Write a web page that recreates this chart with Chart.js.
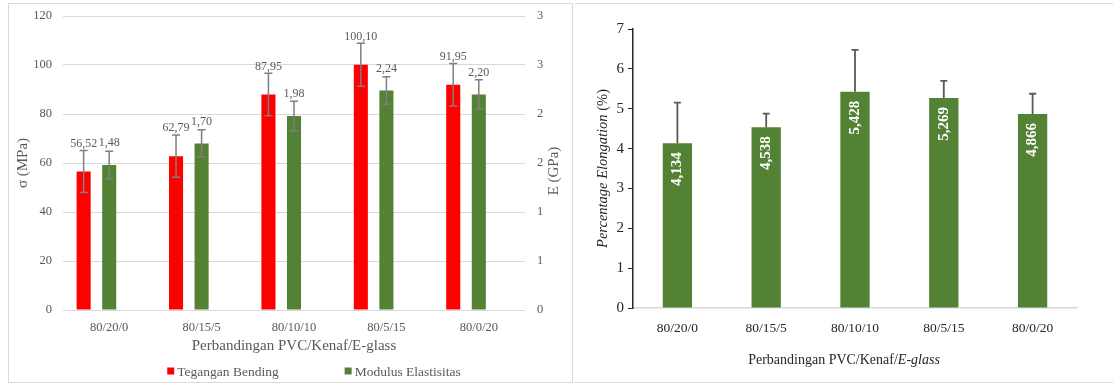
<!DOCTYPE html>
<html lang="id">
<head>
<meta charset="UTF-8">
<title>Tegangan Bending, Modulus Elastisitas dan Elongation</title>
<script src="https://cdn.jsdelivr.net/npm/chart.js"></script>
<style>
  body { margin: 0; background: #fff; width: 1113px; height: 385px; position: relative; overflow: hidden; }
  .panel { position: absolute; box-sizing: border-box; border: 1px solid #d9d9d9; }
  #leftPanel { left: 8px; top: 3px; width: 565px; height: 380px; }
  #rightPanel { left: 575px; top: 3px; width: 538px; height: 380px; border-left: none; border-right: none; }
  canvas { display: block; }
</style>
</head>
<body>
<div class="panel" id="leftPanel"><canvas id="bendChart" width="563" height="378"></canvas></div>
<div class="panel" id="rightPanel"><canvas id="elongChart" width="538" height="378"></canvas></div>

<script>
  // data
  const categories = ['80/20/0', '80/15/5', '80/10/10', '80/5/15', '80/0/20'];
  const bendingStrength = [56.52, 62.79, 87.95, 100.10, 91.95];     // MPa
  const bendingStrengthErr = [8.6, 8.6, 8.7, 8.8, 8.7];
  const modulus = [1.48, 1.70, 1.98, 2.24, 2.20];                    // GPa
  const modulusErr = [0.14, 0.14, 0.15, 0.14, 0.15];
  const elongation = [4.134, 4.538, 5.428, 5.269, 4.866];            // %
  const elongationErr = [1.02, 0.34, 1.05, 0.43, 0.51];

  const SERIF = "'Liberation Serif', 'Times New Roman', serif";
  const RED = '#ff0000';
  const GREEN = '#548235';

  // error bars drawn from the dataset's "errors" array through the y scale
  const errorBars = {
    id: 'errorBars',
    afterDatasetsDraw(chart, args, opts) {
      const ctx = chart.ctx;
      chart.data.datasets.forEach((ds, i) => {
        if (!ds.errors) return;
        const meta = chart.getDatasetMeta(i);
        const scale = chart.scales[meta.yAxisID];
        ctx.save();
        ctx.strokeStyle = opts.color;
        ctx.lineWidth = opts.width;
        meta.data.forEach((bar, j) => {
          const v = ds.data[j], e = ds.errors[j];
          const top = scale.getPixelForValue(v + e);
          const bot = opts.plusOnly ? bar.y : scale.getPixelForValue(v - e);
          const x = bar.x, c = opts.cap / 2;
          ctx.beginPath();
          ctx.moveTo(x, top); ctx.lineTo(x, bot);
          ctx.moveTo(x - c, top); ctx.lineTo(x + c, top);
          if (!opts.plusOnly) { ctx.moveTo(x - c, bot); ctx.lineTo(x + c, bot); }
          ctx.stroke();
        });
        ctx.restore();
      });
    }
  };

  // value labels for the left chart (above the bars, comma decimals)
  const topLabels = {
    id: 'topLabels',
    afterDatasetsDraw(chart) {
      const ctx = chart.ctx;
      ctx.save();
      ctx.font = '12px ' + SERIF;
      ctx.fillStyle = '#595959';
      ctx.textAlign = 'center';
      ctx.textBaseline = 'middle';
      chart.data.datasets.forEach((ds, i) => {
        if (ds.labelOffset == null) return;
        chart.getDatasetMeta(i).data.forEach((bar, j) => {
          ctx.fillText(ds.data[j].toFixed(2).replace('.', ','), bar.x, bar.y - ds.labelOffset);
        });
      });
      ctx.restore();
    }
  };

  // legend row + right-hand axis title (Excel style, reads bottom to top)
  const bendExtras = {
    id: 'bendExtras',
    afterDraw(chart) {
      const ctx = chart.ctx;
      const area = chart.chartArea;
      ctx.save();
      ctx.font = '15px ' + SERIF;
      ctx.fillStyle = '#595959';
      ctx.textAlign = 'center';
      ctx.textBaseline = 'middle';
      ctx.translate(545, (area.top + area.bottom) / 2 + 8);
      ctx.rotate(-Math.PI / 2);
      ctx.fillText('E (GPa)', 0, 0);
      ctx.restore();

      const items = chart.data.datasets.filter(d => d.label);
      ctx.save();
      ctx.font = '13.5px ' + SERIF;
      ctx.textBaseline = 'middle';
      const box = 7, gap = 3, spacing = 66;
      const widths = items.map(d => box + gap + ctx.measureText(d.label).width);
      const total = widths.reduce((a, b) => a + b, 0) + spacing * (items.length - 1);
      let x = 305 - total / 2;
      const y = 367;
      items.forEach((d, i) => {
        ctx.fillStyle = d.backgroundColor;
        ctx.fillRect(x, y - box / 2, box, box);
        ctx.fillStyle = '#595959';
        ctx.fillText(d.label, x + box + gap, y + 1);
        x += widths[i] + spacing;
      });
      ctx.restore();
    }
  };

  new Chart(document.getElementById('bendChart'), {
    type: 'bar',
    data: {
      labels: categories,
      datasets: [
        { label: 'Tegangan Bending', data: bendingStrength, errors: bendingStrengthErr,
          backgroundColor: RED, yAxisID: 'y', labelOffset: 28 },
        { label: 'Modulus Elastisitas', data: modulus, errors: modulusErr,
          backgroundColor: GREEN, yAxisID: 'y2', labelOffset: 22 },
        // empty slot, keeps the Excel spacing of the two series
        { label: '', data: categories.map(() => null), yAxisID: 'y' }
      ]
    },
    options: {
      responsive: false,
      animation: false,
      categoryPercentage: 0.83,
      barPercentage: 0.55,
      layout: { padding: { top: 12, bottom: 27 } },
      plugins: {
        legend: { display: false },
        tooltip: { enabled: false },
        errorBars: { color: '#7f7f7f', width: 1.5, cap: 8, plusOnly: false }
      },
      scales: {
        x: {
          grid: { display: false },
          border: { display: false },
          ticks: { color: '#595959', font: { family: SERIF, size: 12.5 }, padding: 2 },
          title: { display: true, text: 'Perbandingan PVC/Kenaf/E-glass', color: '#595959',
                   font: { family: SERIF, size: 15 }, padding: { top: 9, bottom: 0 } },
          afterFit: s => { s.height = 45; }
        },
        y: {
          position: 'left',
          min: 0, max: 120,
          ticks: { stepSize: 20, color: '#595959', font: { family: SERIF, size: 12.5 }, padding: 4 },
          grid: { color: '#d9d9d9', drawTicks: true, tickLength: 7, tickColor: 'transparent' },
          border: { display: false },
          title: { display: true, text: 'σ (MPa)', color: '#595959',
                   font: { family: SERIF, size: 15 }, padding: { top: 5, bottom: 0 } },
          afterFit: s => { s.width = 54; }
        },
        y2: {
          position: 'right',
          min: 0, max: 3,
          ticks: { stepSize: 0.5, color: '#595959', font: { family: SERIF, size: 12.5 }, padding: 4,
                   callback: v => Math.round(v) },
          grid: { display: true, drawOnChartArea: false, drawTicks: true, tickLength: 8, tickColor: 'transparent' },
          border: { display: false },
          afterFit: s => { s.width = 47; }
        }
      }
    },
    plugins: [errorBars, topLabels, bendExtras]
  });

  // labels inside the bars, rotated
  const insideLabels = {
    id: 'insideLabels',
    afterDatasetsDraw(chart) {
      const ctx = chart.ctx;
      ctx.save();
      ctx.font = 'bold 15px ' + SERIF;
      ctx.fillStyle = '#ffffff';
      ctx.textAlign = 'right';
      ctx.textBaseline = 'middle';
      const ds = chart.data.datasets[0];
      chart.getDatasetMeta(0).data.forEach((bar, j) => {
        ctx.save();
        ctx.translate(bar.x, bar.y + 9);
        ctx.rotate(-Math.PI / 2);
        ctx.fillText(ds.data[j].toFixed(3).replace('.', ','), 0, 0);
        ctx.restore();
      });
      ctx.restore();
    }
  };

  // axis titles with italic parts
  function mixedText(ctx, parts, size, color) {
    const fonts = parts.map(p => (p[1] ? 'italic ' : '') + size + 'px ' + SERIF);
    const widths = parts.map((p, i) => { ctx.font = fonts[i]; return ctx.measureText(p[0]).width; });
    let x = -widths.reduce((a, b) => a + b, 0) / 2;
    ctx.fillStyle = color;
    ctx.textAlign = 'left';
    ctx.textBaseline = 'middle';
    parts.forEach((p, i) => { ctx.font = fonts[i]; ctx.fillText(p[0], x, 0); x += widths[i]; });
  }

  const elongTitles = {
    id: 'elongTitles',
    afterDraw(chart) {
      const ctx = chart.ctx;
      const area = chart.chartArea;
      ctx.save();
      ctx.translate(chart.width / 2, 356);
      mixedText(ctx, [['Perbandingan PVC/Kenaf/', false], ['E-glass', true]], 14, '#262626');
      ctx.restore();
      ctx.save();
      ctx.translate(28, (area.top + area.bottom) / 2);
      ctx.rotate(-Math.PI / 2);
      mixedText(ctx, [['Percentage Elongation', true], [' (%)', false]], 14.5, '#262626');
      ctx.restore();
    }
  };

  new Chart(document.getElementById('elongChart'), {
    type: 'bar',
    data: {
      labels: categories,
      datasets: [
        { label: 'Percentage Elongation', data: elongation, errors: elongationErr,
          backgroundColor: GREEN, barPercentage: 0.33, categoryPercentage: 1 }
      ]
    },
    options: {
      responsive: false,
      animation: false,
      layout: { padding: { top: 25, right: 36, bottom: 16 } },
      plugins: {
        legend: { display: false },
        tooltip: { enabled: false },
        errorBars: { color: '#595959', width: 1.8, cap: 7, plusOnly: true }
      },
      scales: {
        x: {
          grid: { display: false },
          border: { display: true, color: '#d9d9d9', width: 1.5 },
          ticks: { color: '#262626', font: { family: SERIF, size: 13.5 }, padding: 4 },
          afterFit: s => { s.height = 58; }
        },
        y: {
          min: 0, max: 7,
          ticks: { stepSize: 1, color: '#262626', font: { family: SERIF, size: 15 }, padding: 4 },
          grid: { display: true, drawOnChartArea: false, drawTicks: true, tickLength: 5, color: '#262626' },
          border: { display: true, color: '#262626', width: 1.5 },
          afterFit: s => { s.width = 58; }
        }
      }
    },
    plugins: [errorBars, insideLabels, elongTitles]
  });
</script>
</body>
</html>
